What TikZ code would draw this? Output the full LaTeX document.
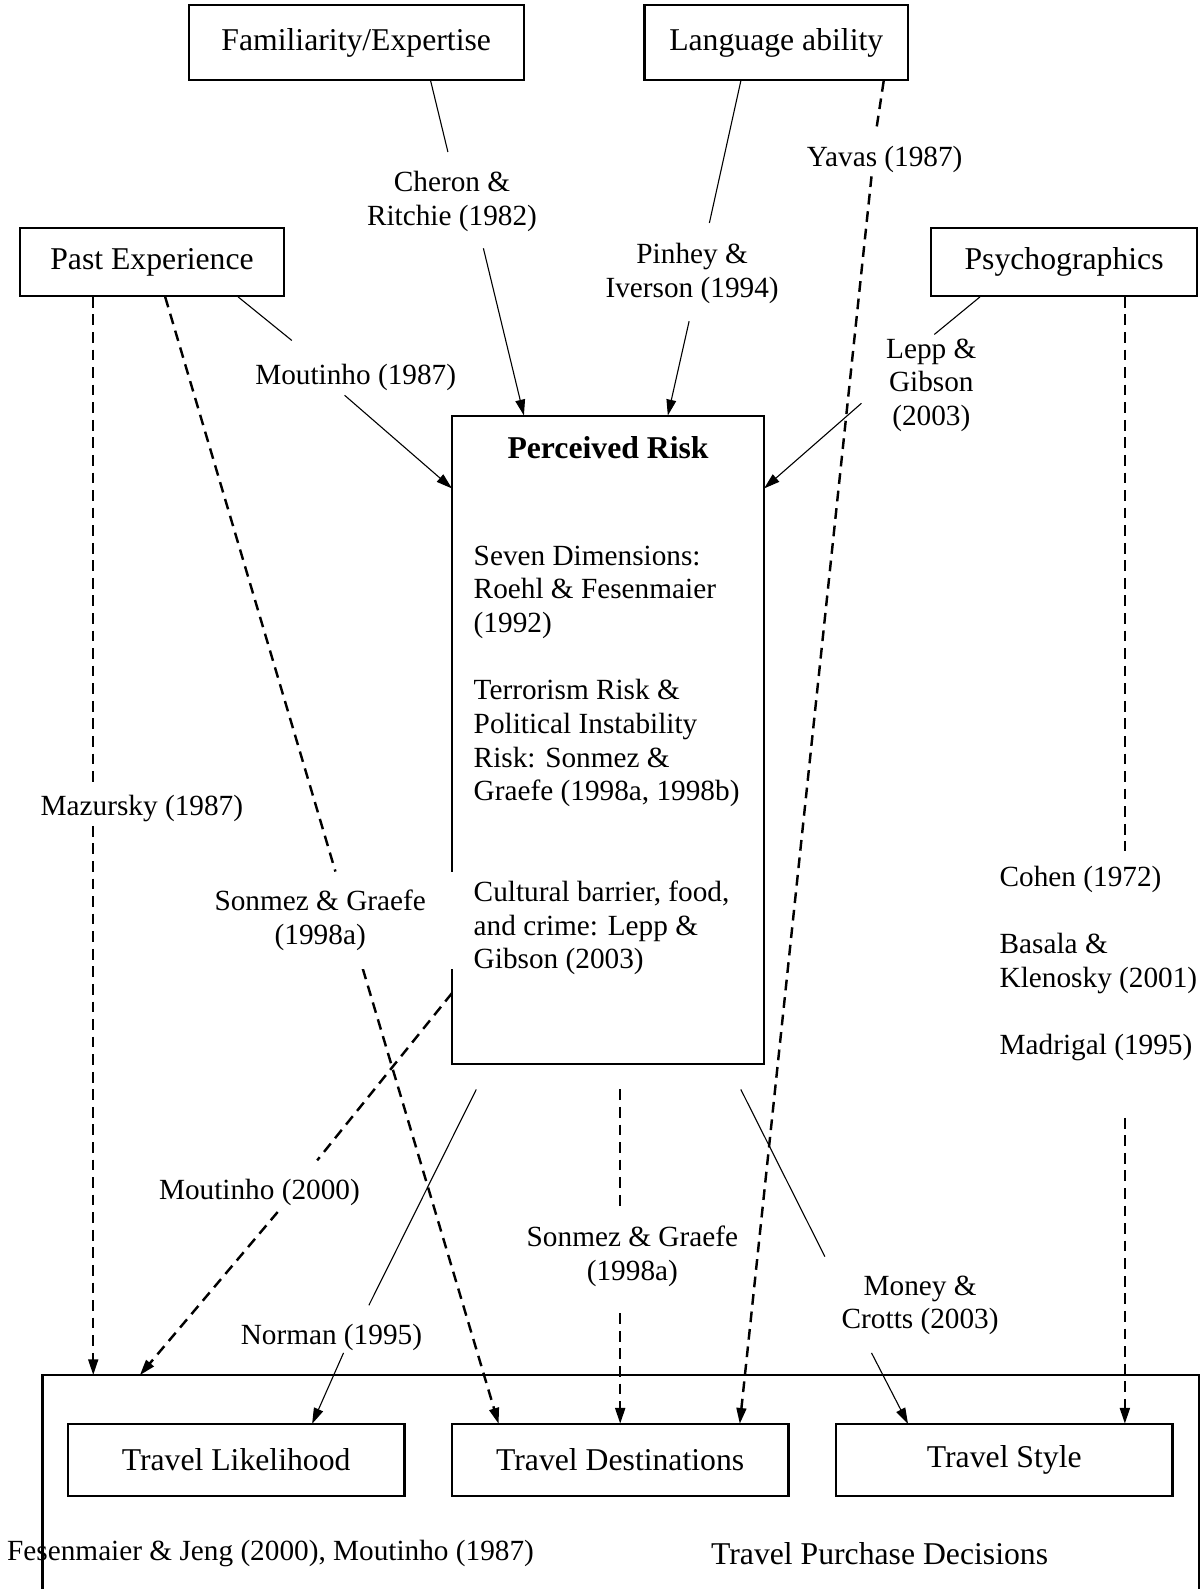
\documentclass[tikz,border=0pt]{standalone}
\usepackage{fontspec}
\setmainfont{Liberation Serif}
\usetikzlibrary{arrows.meta}

\newcommand{\diagboxfont}{\fontsize{13}{15}\selectfont}
\newcommand{\diagcitefont}{\fontsize{12}{13.8}\selectfont}

\begin{document}
\begin{tikzpicture}[
    x=0.0146cm, y=-0.0146cm,            % one unit = one pixel of the layout
    >={Triangle[length=6.5pt, width=4pt]},
    factor/.style={draw, line width=0.9pt, inner sep=0pt, font=\diagboxfont},
    cite/.style={inner sep=0pt, align=center, font=\diagcitefont},
    solidlink/.style={line width=0.45pt},
    dashlink/.style={line width=1pt, dash pattern=on 4.4pt off 2.8pt}
]
    \useasboundingbox (0,0) rectangle (1185,1568);

    % --- 1. factor boxes ---
    \node [factor, minimum width=4.83cm, minimum height=1.08cm] (fam) at (351.5,42) {Familiarity/Expertise};
    \node [factor, minimum width=3.80cm, minimum height=1.08cm] (lang) at (766,42) {Language ability};
    \node [factor, minimum width=3.80cm, minimum height=0.98cm] (past) at (150,258.5) {Past Experience};
    \node [factor, minimum width=3.83cm, minimum height=0.98cm] (psy) at (1050,258.5) {Psychographics};

    % the central box
    \node [factor, minimum width=4.50cm, minimum height=9.34cm] (risk) at (600,730) {};
    \node [font=\diagboxfont\bfseries] (risktitle) at (600,442) {Perceived Risk};
    \node [cite, align=left, anchor=north west] (riskbody) at (467,538) {%
        Seven Dimensions:\\ Roehl \& Fesenmaier\\ (1992)\\[13.8pt]
        Terrorism Risk \&\\ Political Instability\\ Risk: Sonmez \&\\ Graefe (1998a, 1998b)\\[27.6pt]
        Cultural barrier, food,\\ and crime: Lepp \&\\ Gibson (2003)};

    % decisions frame (open at the bottom)
    \draw [line width=0.9pt] (42,1568) -- (42,1357) -- (1183,1357) -- (1183,1568);
    \node [factor, minimum width=4.85cm, minimum height=1.04cm] (like) at (233,1440.5) {Travel Likelihood};
    \node [factor, minimum width=4.85cm, minimum height=1.04cm] (dest) at (612,1440.5) {Travel Destinations};
    \node [factor, minimum width=4.85cm, minimum height=1.04cm] (style) at (991,1440.5) {Travel Style};

    % --- 2. connector end points ---
    \coordinate (famA) at (425,80);     \coordinate (cheronA) at (442,150);
    \coordinate (cheronB) at (477,245); \coordinate (riskA) at (517,410);
    \coordinate (langA) at (731,80);    \coordinate (pinheyA) at (700,220);
    \coordinate (pinheyB) at (680,317); \coordinate (riskB) at (659,410);
    \coordinate (langB) at (872,80);    \coordinate (yavasA) at (865,126);
    \coordinate (yavasB) at (860,174);  \coordinate (destA) at (730,1405);
    \coordinate (pastA) at (235,293);   \coordinate (moutA) at (288,336);
    \coordinate (moutB) at (340,390);   \coordinate (riskC) at (446,482);
    \coordinate (psyA) at (967,293);    \coordinate (leppA) at (922,330);
    \coordinate (leppB) at (850,398);   \coordinate (riskD) at (754,482);
    \coordinate (pastB) at (92,293);    \coordinate (mazurA) at (92,777);
    \coordinate (mazurB) at (92,815);   \coordinate (decA) at (92,1357);
    \coordinate (pastC) at (163,293);   \coordinate (sonmezA) at (331,860);
    \coordinate (sonmezB) at (358,956); \coordinate (destB) at (492,1405);
    \coordinate (riskE) at (446,980);   \coordinate (moutC) at (313,1145);
    \coordinate (moutD) at (274,1196);  \coordinate (decB) at (138,1357);
    \coordinate (riskF) at (470,1075);  \coordinate (normanA) at (364,1288);
    \coordinate (normanB) at (339,1335);\coordinate (likeA) at (308,1405);
    \coordinate (riskG) at (612,1075);  \coordinate (sonmezC) at (612,1194);
    \coordinate (sonmezD) at (612,1296);\coordinate (destC) at (612,1405);
    \coordinate (riskH) at (731,1075);  \coordinate (moneyA) at (814,1240);
    \coordinate (moneyB) at (860,1335); \coordinate (styleA) at (896,1405);
    \coordinate (psyB) at (1110,293);   \coordinate (cohenA) at (1110,840);
    \coordinate (cohenB) at (1110,1103);\coordinate (styleB) at (1110,1405);

    % --- 3. connectors ---
    \draw [solidlink] (famA) -- (cheronA);   \draw [solidlink, ->] (cheronB) -- (riskA);
    \draw [solidlink] (langA) -- (pinheyA);  \draw [solidlink, ->] (pinheyB) -- (riskB);
    \draw [dashlink] (langB) -- (yavasA);    \draw [dashlink, ->] (yavasB) -- (destA);
    \draw [solidlink] (pastA) -- (moutA);    \draw [solidlink, ->] (moutB) -- (riskC);
    \draw [solidlink] (psyA) -- (leppA);     \draw [solidlink, ->] (leppB) -- (riskD);
    \draw [dashlink] (pastB) -- (mazurA);    \draw [dashlink, ->] (mazurB) -- (decA);
    \draw [dashlink] (pastC) -- (sonmezA);   \draw [dashlink, ->] (sonmezB) -- (destB);
    \draw [dashlink] (riskE) -- (moutC);     \draw [dashlink, ->] (moutD) -- (decB);
    \draw [solidlink] (riskF) -- (normanA);  \draw [solidlink, ->] (normanB) -- (likeA);
    \draw [dashlink] (riskG) -- (sonmezC);   \draw [dashlink, ->] (sonmezD) -- (destC);
    \draw [solidlink] (riskH) -- (moneyA);   \draw [solidlink, ->] (moneyB) -- (styleA);
    \draw [dashlink] (psyB) -- (cohenA);     \draw [dashlink, ->] (cohenB) -- (styleB);

    % --- 4. citation labels ---
    \node [cite] (cheron) at (446,199) {Cheron \&\\ Ritchie (1982)};
    \node [cite] (pinhey) at (683,270) {Pinhey \&\\ Iverson (1994)};
    \node [cite] (yavas) at (873,157) {Yavas (1987)};
    \node [cite] (mout87) at (351,372) {Moutinho (1987)};
    \node [cite] (lepp) at (919,380) {Lepp \&\\ Gibson\\ (2003)};
    \node [cite] (mazur) at (140,798) {Mazursky (1987)};
    \node [cite, fill=white, minimum width=3.91cm, minimum height=1.40cm] (sonmez1) at (316,908) {Sonmez \& Graefe\\ (1998a)};
    \node [cite] (mout00) at (256,1177) {Moutinho (2000)};
    \node [cite] (sonmez2) at (624,1240) {Sonmez \& Graefe\\ (1998a)};
    \node [cite] (money) at (908,1288) {Money \&\\ Crotts (2003)};
    \node [cite] (norman) at (327,1320) {Norman (1995)};
    \node [cite, align=left, anchor=west] (cohen) at (986,950.5) {%
        Cohen (1972)\\[13.8pt] Basala \&\\ Klenosky (2001)\\[13.8pt] Madrigal (1995)};

    % bottom texts
    \node [cite] (fesen) at (267,1533) {Fesenmaier \& Jeng (2000), Moutinho (1987)};
    \node [font=\diagboxfont] (purchase) at (868,1533) {Travel Purchase Decisions};

\end{tikzpicture}
\end{document}
